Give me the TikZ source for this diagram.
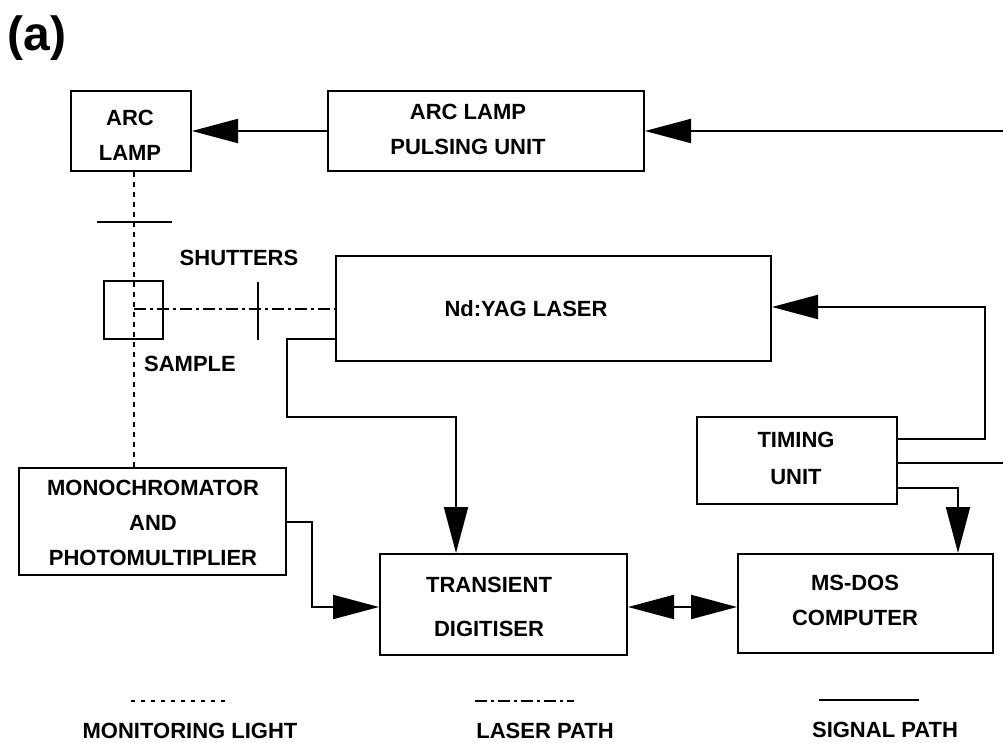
\documentclass[tikz,border=0pt]{standalone}
\usepackage{fontspec}
\setmainfont{Liberation Sans}
\usetikzlibrary{arrows.meta}
\begin{document}
\begin{tikzpicture}[x=1pt,y=-1pt,
  txt/.style={font=\fontsize{22}{35}\bfseries\selectfont, align=center, inner sep=0pt},
  box/.style={draw, line width=2pt, inner sep=0pt},
  sig/.style={line width=2pt},
  arr/.style={sig, -{Triangle[length=46pt,width=24pt]}},
  dbl/.style={sig, {Triangle[length=46pt,width=24pt]}-{Triangle[length=46pt,width=24pt]}},
  mon/.style={line width=2pt, dash pattern=on 5pt off 5pt},
  las/.style={line width=2pt, dash pattern=on 12pt off 4pt on 3pt off 4pt}]
\fill[white] (0,0) rectangle (1003,743);
\useasboundingbox (0,0) rectangle (1003,743);

\node[font=\fontsize{48}{52}\bfseries\selectfont, inner sep=0pt] (lbl) at (37,38) {(a)};

% boxes
\node[box, minimum width=120pt, minimum height=80pt] (arclamp) at (131,131) {};
\node[txt] (arctxt) at (130,135.5) {ARC\\LAMP};
\node[box, minimum width=316pt, minimum height=80pt] (pulse) at (486,131) {};
\node[txt] (pulsetxt) at (468,129) {ARC LAMP\\PULSING UNIT};
\node[box, minimum width=59pt, minimum height=58pt] (sample) at (133.5,310) {};
\node[box, minimum width=435pt, minimum height=105pt] (laser) at (553.5,308.5) {};
\node[txt] (lasertxt) at (526,309) {Nd:YAG LASER};
\node[box, minimum width=200pt, minimum height=87pt] (timing) at (797,460.5) {};
\node[txt, font=\fontsize{22}{37}\bfseries\selectfont] (timingtxt) at (796,458.5) {TIMING\\UNIT};
\node[box, minimum width=267pt, minimum height=107pt] (mono) at (152.5,521.5) {};
\node[txt] (monotxt) at (153,522.5) {MONOCHROMATOR\\AND\\PHOTOMULTIPLIER};
\node[box, minimum width=247pt, minimum height=101pt] (digit) at (503.5,604.5) {};
\node[txt, font=\fontsize{22}{44}\bfseries\selectfont] (digittxt) at (489,607) {TRANSIENT\\DIGITISER};
\node[box, minimum width=255pt, minimum height=99pt] (msdos) at (865.5,603.5) {};
\node[txt] (msdostxt) at (855,600.5) {MS-DOS\\COMPUTER};

\node[txt] (shuttxt) at (239,258) {SHUTTERS};
\node[txt] (samptxt) at (190,364) {SAMPLE};

% optical paths
\draw[mon] ([xshift=3pt]arclamp.south) -- ([xshift=3pt]arclamp.south |- mono.north);
\coordinate (lstart) at (134,309);
\draw[las] (lstart) -- (laser.west |- lstart);
\draw[sig] (97,222) -- (172,222);
\draw[sig] (258,282) -- (258,340);

% signal paths
\coordinate (edgeA) at (1003,131);
\coordinate (edgeB) at (1003,463);
\draw[arr] (edgeA) -- (pulse.east);
\draw[arr] (pulse.west) -- (arclamp.east);
\draw[arr] (laser.west |- 0,339) -- (287,339) -- (287,417) -- (456,417) -- (digit.north -| 456,0);
\draw[arr] (timing.east |- 0,439) -- (985,439) -- (985,307) -- (laser.east |- 0,307);
\draw[sig] (timing.east |- edgeB) -- (edgeB);
\draw[arr] (timing.east |- 0,488) -- (958,488) -- (msdos.north -| 958,0);
\draw[arr] (mono.east) -- (312,521.5) -- (312,607) -- (digit.west |- 0,607);
\draw[dbl] (digit.east |- 0,607) -- (msdos.west |- 0,607);

% legend
\draw[line width=2pt, dash pattern=on 4pt off 6pt] (131,701) -- (230,701);
\node[txt] (leg1) at (190,731) {MONITORING LIGHT};
\draw[las] (475,701) -- (574,701);
\node[txt] (leg2) at (545,731) {LASER PATH};
\draw[sig] (819,700) -- (919,700);
\node[txt] (leg3) at (885,730) {SIGNAL PATH};
\end{tikzpicture}
\end{document}
